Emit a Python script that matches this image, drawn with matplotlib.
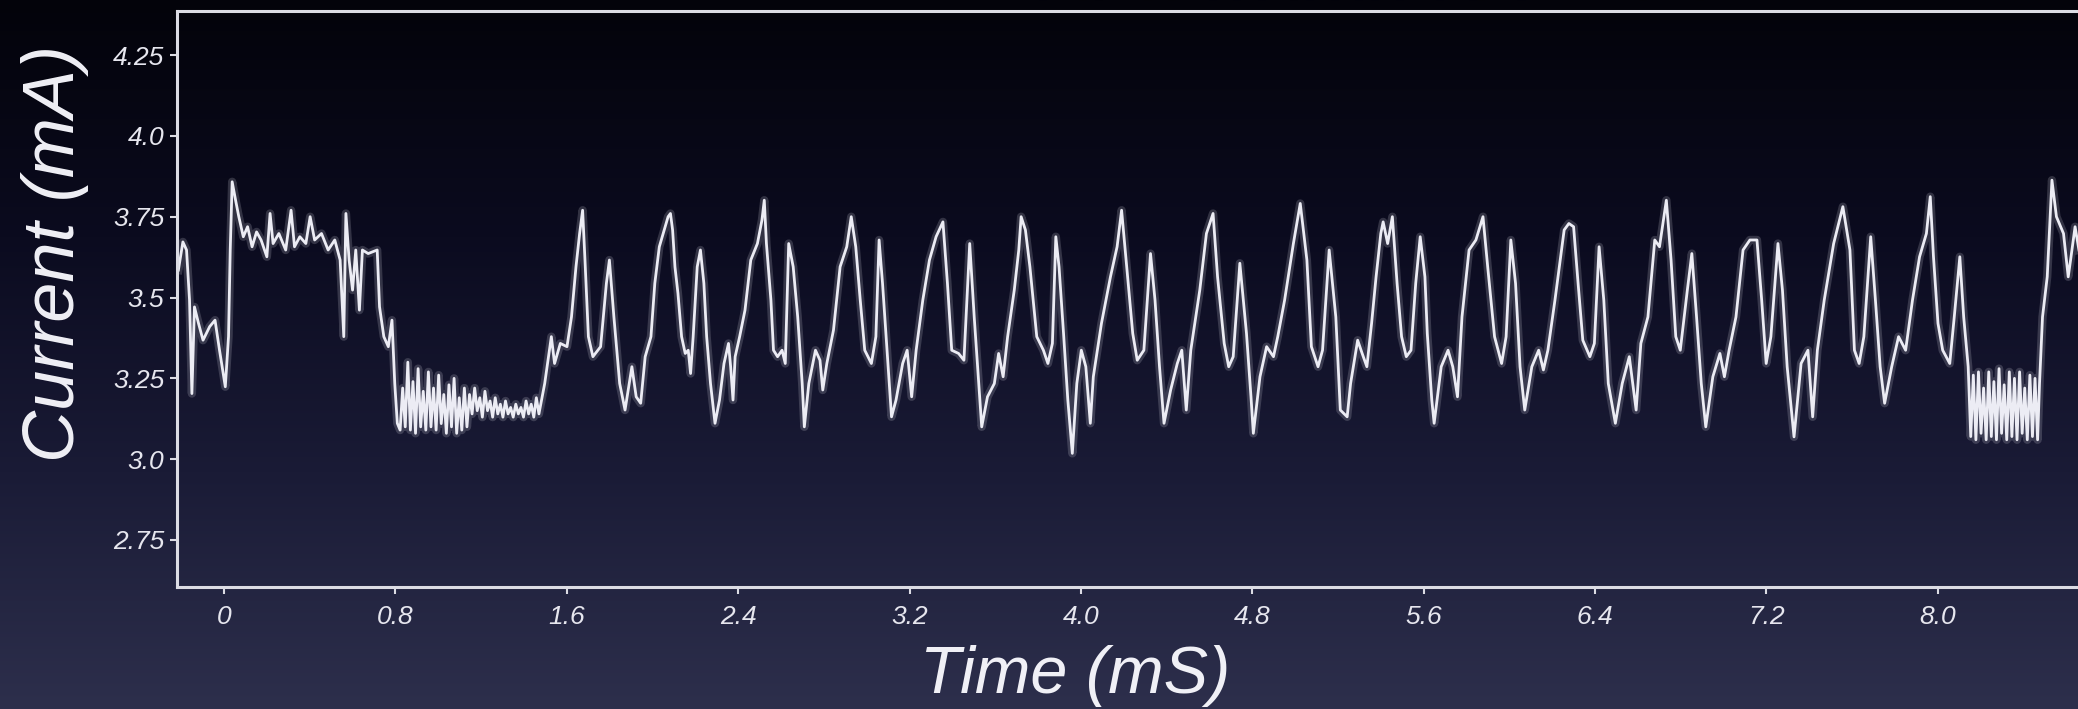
import numpy as np
import matplotlib
matplotlib.use("Agg")
import matplotlib.pyplot as plt
from matplotlib.colors import LinearSegmentedColormap

# ---------------------------------------------------
# data (time in mS, current in mA)
# ---------------------------------------------------
# start: dip, jump to ~3.7 plateau, drop at 0.8 mS
t_start = [-0.213, -0.192, -0.175, -0.161, -0.150, -0.138, -0.119, -0.098, -0.067, -0.042,
           -0.021, 0.006, 0.021, 0.029, 0.038, 0.054, 0.069, 0.090, 0.110, 0.131,
           0.152, 0.173, 0.200, 0.215, 0.229, 0.256, 0.288, 0.313, 0.329, 0.354,
           0.382, 0.402, 0.423, 0.455, 0.486, 0.517, 0.542, 0.559, 0.569, 0.584,
           0.600, 0.615, 0.632, 0.646, 0.673, 0.715, 0.726, 0.746, 0.767, 0.784,
           0.797, 0.809]
i_start = [3.585, 3.672, 3.647, 3.492, 3.203, 3.471, 3.420, 3.368, 3.410, 3.430,
           3.337, 3.224, 3.379, 3.647, 3.858, 3.801, 3.750, 3.688, 3.719, 3.657,
           3.703, 3.678, 3.626, 3.760, 3.667, 3.698, 3.647, 3.770, 3.657, 3.688,
           3.667, 3.750, 3.678, 3.698, 3.647, 3.678, 3.616, 3.379, 3.760, 3.616,
           3.523, 3.647, 3.461, 3.647, 3.636, 3.647, 3.471, 3.379, 3.348, 3.430,
           3.234, 3.111]

# low noisy band 0.8 - 1.47 mS
t_band1 = [0.822, 0.834, 0.846, 0.858, 0.870, 0.882, 0.894, 0.906, 0.918, 0.930,
           0.942, 0.954, 0.966, 0.978, 0.990, 1.002, 1.014, 1.026, 1.038, 1.050,
           1.062, 1.074, 1.086, 1.098, 1.110, 1.122, 1.134, 1.146, 1.158, 1.170,
           1.182, 1.194, 1.206, 1.218, 1.230, 1.242, 1.254, 1.266, 1.278, 1.290,
           1.302, 1.314, 1.326, 1.338, 1.350, 1.362, 1.374, 1.386, 1.398, 1.410,
           1.422, 1.434, 1.446, 1.458, 1.470]
i_band1 = [3.09, 3.22, 3.10, 3.30, 3.09, 3.24, 3.08, 3.28, 3.10, 3.21,
           3.09, 3.27, 3.10, 3.22, 3.09, 3.26, 3.11, 3.20, 3.08, 3.23,
           3.10, 3.25, 3.08, 3.19, 3.09, 3.22, 3.10, 3.20, 3.14, 3.22,
           3.15, 3.19, 3.13, 3.21, 3.15, 3.18, 3.13, 3.19, 3.14, 3.17,
           3.13, 3.18, 3.14, 3.16, 3.13, 3.17, 3.14, 3.16, 3.13, 3.18,
           3.14, 3.17, 3.13, 3.19, 3.14]

# oscillating part 1.5 - 8.15 mS
t_osc = [1.497, 1.528, 1.543, 1.570, 1.601, 1.622, 1.643, 1.660, 1.674, 1.685,
         1.701, 1.722, 1.758, 1.785, 1.799, 1.820, 1.847, 1.872, 1.904, 1.924,
         1.945, 1.966, 1.993, 2.011, 2.032, 2.073, 2.084, 2.094, 2.105, 2.119,
         2.136, 2.153, 2.167, 2.178, 2.190, 2.209, 2.224, 2.240, 2.253, 2.271,
         2.292, 2.313, 2.334, 2.355, 2.365, 2.376, 2.386, 2.407, 2.432, 2.459,
         2.490, 2.511, 2.522, 2.532, 2.553, 2.565, 2.584, 2.605, 2.620, 2.636,
         2.657, 2.678, 2.699, 2.709, 2.730, 2.761, 2.782, 2.795, 2.814, 2.845,
         2.876, 2.907, 2.928, 2.949, 2.970, 2.991, 3.022, 3.043, 3.058, 3.074,
         3.095, 3.116, 3.137, 3.168, 3.189, 3.210, 3.231, 3.262, 3.293, 3.324,
         3.356, 3.377, 3.397, 3.429, 3.454, 3.481, 3.502, 3.523, 3.537, 3.564,
         3.596, 3.616, 3.637, 3.658, 3.689, 3.710, 3.721, 3.741, 3.762, 3.794,
         3.825, 3.846, 3.867, 3.883, 3.898, 3.919, 3.939, 3.960, 3.981, 4.002,
         4.023, 4.044, 4.058, 4.096, 4.138, 4.169, 4.190, 4.211, 4.242, 4.263,
         4.294, 4.325, 4.346, 4.367, 4.388, 4.419, 4.450, 4.471, 4.492, 4.513,
         4.555, 4.586, 4.617, 4.638, 4.669, 4.690, 4.711, 4.742, 4.773, 4.794,
         4.805, 4.836, 4.867, 4.899, 4.919, 4.951, 4.992, 5.024, 5.055, 5.076,
         5.107, 5.128, 5.159, 5.190, 5.211, 5.243, 5.259, 5.292, 5.313, 5.335,
         5.357, 5.378, 5.400, 5.411, 5.432, 5.454, 5.476, 5.497, 5.519, 5.541,
         5.563, 5.584, 5.606, 5.617, 5.638, 5.649, 5.682, 5.714, 5.736, 5.758,
         5.779, 5.812, 5.844, 5.877, 5.899, 5.931, 5.964, 5.985, 6.007, 6.029,
         6.050, 6.072, 6.105, 6.137, 6.159, 6.180, 6.213, 6.256, 6.278, 6.300,
         6.321, 6.343, 6.376, 6.397, 6.419, 6.441, 6.462, 6.495, 6.527, 6.560,
         6.592, 6.614, 6.647, 6.679, 6.701, 6.733, 6.755, 6.777, 6.798, 6.831,
         6.852, 6.874, 6.896, 6.917, 6.950, 6.983, 7.004, 7.026, 7.058, 7.091,
         7.123, 7.156, 7.178, 7.199, 7.221, 7.254, 7.275, 7.297, 7.329, 7.362,
         7.394, 7.416, 7.438, 7.470, 7.514, 7.557, 7.590, 7.611, 7.633, 7.655,
         7.687, 7.709, 7.731, 7.752, 7.785, 7.817, 7.850, 7.882, 7.915, 7.947,
         7.965, 7.980, 8.001, 8.023, 8.056, 8.077, 8.103, 8.121, 8.142]
i_osc = [3.234, 3.379, 3.296, 3.358, 3.348, 3.440, 3.595, 3.698, 3.770, 3.616,
         3.379, 3.317, 3.348, 3.544, 3.616, 3.440, 3.234, 3.152, 3.286, 3.193,
         3.173, 3.317, 3.379, 3.544, 3.657, 3.750, 3.760, 3.709, 3.595, 3.513,
         3.379, 3.327, 3.337, 3.265, 3.379, 3.595, 3.647, 3.544, 3.379, 3.234,
         3.111, 3.183, 3.296, 3.358, 3.286, 3.183, 3.317, 3.379, 3.461, 3.616,
         3.667, 3.739, 3.801, 3.667, 3.492, 3.337, 3.317, 3.337, 3.296, 3.667,
         3.595, 3.440, 3.234, 3.100, 3.234, 3.337, 3.306, 3.214, 3.296, 3.399,
         3.595, 3.657, 3.750, 3.657, 3.492, 3.337, 3.296, 3.379, 3.678, 3.544,
         3.337, 3.131, 3.183, 3.296, 3.337, 3.193, 3.337, 3.492, 3.616, 3.688,
         3.734, 3.544, 3.337, 3.327, 3.306, 3.667, 3.440, 3.234, 3.100, 3.193,
         3.234, 3.327, 3.255, 3.379, 3.523, 3.647, 3.750, 3.709, 3.595, 3.379,
         3.337, 3.296, 3.358, 3.688, 3.595, 3.389, 3.183, 3.018, 3.234, 3.337,
         3.286, 3.111, 3.255, 3.420, 3.564, 3.657, 3.770, 3.616, 3.389, 3.306,
         3.337, 3.636, 3.492, 3.286, 3.111, 3.214, 3.296, 3.337, 3.152, 3.337,
         3.523, 3.698, 3.760, 3.564, 3.358, 3.286, 3.317, 3.606, 3.389, 3.193,
         3.080, 3.255, 3.348, 3.317, 3.379, 3.492, 3.667, 3.791, 3.616, 3.348,
         3.286, 3.337, 3.647, 3.440, 3.152, 3.131, 3.234, 3.368, 3.327, 3.286,
         3.420, 3.564, 3.698, 3.734, 3.667, 3.750, 3.544, 3.379, 3.317, 3.337,
         3.544, 3.688, 3.564, 3.389, 3.183, 3.111, 3.286, 3.337, 3.286, 3.193,
         3.440, 3.647, 3.678, 3.750, 3.595, 3.379, 3.296, 3.379, 3.678, 3.544,
         3.286, 3.152, 3.286, 3.337, 3.276, 3.337, 3.492, 3.709, 3.729, 3.719,
         3.544, 3.368, 3.317, 3.358, 3.657, 3.492, 3.234, 3.111, 3.234, 3.317,
         3.152, 3.358, 3.440, 3.678, 3.657, 3.801, 3.616, 3.379, 3.337, 3.523,
         3.636, 3.440, 3.234, 3.100, 3.255, 3.327, 3.255, 3.337, 3.440, 3.647,
         3.678, 3.678, 3.492, 3.296, 3.379, 3.667, 3.523, 3.286, 3.069, 3.296,
         3.337, 3.131, 3.337, 3.492, 3.667, 3.781, 3.647, 3.337, 3.296, 3.379,
         3.688, 3.492, 3.286, 3.173, 3.286, 3.379, 3.337, 3.492, 3.626, 3.698,
         3.812, 3.626, 3.420, 3.337, 3.296, 3.440, 3.626, 3.440, 3.286]

# second low noisy band and final jump
t_band2 = [8.154, 8.166, 8.178, 8.190, 8.202, 8.214, 8.226, 8.238, 8.250, 8.262,
           8.274, 8.286, 8.298, 8.310, 8.322, 8.334, 8.346, 8.358, 8.370, 8.382,
           8.394, 8.406, 8.418, 8.430, 8.442, 8.454, 8.466, 8.475, 8.489, 8.511,
           8.533, 8.554, 8.587, 8.609, 8.620, 8.641, 8.659]
i_band2 = [3.07, 3.26, 3.06, 3.27, 3.08, 3.22, 3.06, 3.27, 3.07, 3.24,
           3.06, 3.28, 3.08, 3.23, 3.06, 3.27, 3.07, 3.25, 3.06, 3.27,
           3.08, 3.22, 3.06, 3.26, 3.07, 3.25, 3.06, 3.234, 3.440, 3.564,
           3.863, 3.750, 3.698, 3.564, 3.616, 3.719, 3.647]

x_ticks = [0, 0.8, 1.6, 2.4, 3.2, 4.0, 4.8, 5.6, 6.4, 7.2, 8.0]
x_tick_labels = ["0", "0.8", "1.6", "2.4", "3.2", "4.0", "4.8", "5.6", "6.4", "7.2", "8.0"]
y_ticks = [2.75, 3.0, 3.25, 3.5, 3.75, 4.0, 4.25]
y_tick_labels = ["2.75", "3.0", "3.25", "3.5", "3.75", "4.0", "4.25"]

time_ms = np.concatenate([t_start, t_band1, t_osc, t_band2])
current_ma = np.concatenate([i_start, i_band1, i_osc, i_band2])

plt.rcParams["font.family"] = ["Liberation Sans", "DejaVu Sans"]

W, H = 2078, 709
fig = plt.figure(figsize=(W / 100, H / 100), dpi=100)

# ---------------------------------------------------
# dark slide background gradient
# ---------------------------------------------------
bg = fig.add_axes([0, 0, 1, 1], zorder=-10)
bg_cmap = LinearSegmentedColormap.from_list(
    "slide", ["#03030a", "#0b0b1f", "#1a1b36", "#2d2f4c"])
grad = np.linspace(0, 1, 256).reshape(-1, 1)
bg.imshow(grad, aspect="auto", cmap=bg_cmap, extent=[0, 1, 0, 1], origin="upper")
bg.axis("off")

# ---------------------------------------------------
# trace axes
# ---------------------------------------------------
left, right = 177 / W, 2092 / W
bottom, top = (H - 587) / H, (H - 11) / H
ax = fig.add_axes([left, bottom, right - left, top - bottom])
ax.patch.set_alpha(0)

trace_col = "#ececf4"
ax.plot(time_ms, current_ma, color=trace_col, lw=6, alpha=0.18, solid_joinstyle="round")
ax.plot(time_ms, current_ma, color=trace_col, lw=2.0, solid_joinstyle="round")

ax.set_xlim(-0.2195, 8.72)
ax.set_ylim(2.6046, 4.3863)

for s in ax.spines.values():
    s.set_color("#dcdce4")
    s.set_linewidth(2.2)

ax.set_xticks(x_ticks)
ax.set_xticklabels(x_tick_labels, fontsize=19, style="italic", color="#e6e6ee")
ax.set_yticks(y_ticks)
ax.set_yticklabels(y_tick_labels, fontsize=19, style="italic", color="#e6e6ee")
ax.tick_params(axis="both", colors="#dcdce4", length=5, width=1.5, direction="out")
ax.tick_params(axis="x", pad=8, labelcolor="#e6e6ee")
ax.tick_params(axis="y", pad=4, labelcolor="#e6e6ee")

# axis titles
fig.text(1075 / W, (H - 693) / H, "Time (mS)", ha="center", va="baseline",
         fontsize=48, style="italic", color="#f0f0f6")
fig.text(55 / W, (H - 253) / H, "Current (mA)", ha="center", va="center",
         rotation=90, fontsize=52, style="italic", color="#f0f0f6")

fig.savefig("out.png", dpi=100, facecolor=fig.get_facecolor())
